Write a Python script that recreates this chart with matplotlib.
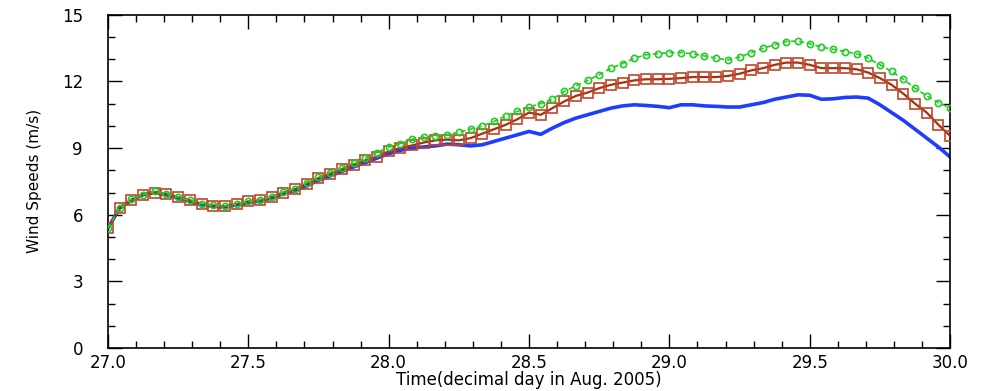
import numpy as np
import matplotlib.pyplot as plt
from matplotlib.ticker import MultipleLocator

# hourly samples, 27.0 .. 30.0 (decimal day in Aug. 2005)
hours = np.arange(73)
day = 27 + hours / 24.0

blue = [5.4, 6.3, 6.65, 6.9, 7.0, 6.9, 6.75, 6.6, 6.45, 6.38, 6.35, 6.45,
        6.55, 6.62, 6.75, 6.95, 7.1, 7.3, 7.55, 7.75, 7.95, 8.15, 8.35, 8.55,
        8.75, 8.9, 9.0, 9.05, 9.1, 9.18, 9.15, 9.1, 9.15, 9.3, 9.45, 9.6,
        9.75, 9.62, 9.9, 10.15, 10.35, 10.5, 10.65, 10.8, 10.9, 10.95, 10.92, 10.88,
        10.82, 10.95, 10.95, 10.9, 10.88, 10.85, 10.85, 10.95, 11.05, 11.2, 11.3, 11.4,
        11.38, 11.2, 11.22, 11.28, 11.3, 11.25, 10.95, 10.6, 10.25, 9.85, 9.45, 9.05,
        8.6]

red = [5.4, 6.3, 6.65, 6.9, 7.0, 6.95, 6.8, 6.65, 6.5, 6.4, 6.38, 6.48,
       6.6, 6.65, 6.8, 7.0, 7.15, 7.4, 7.65, 7.85, 8.05, 8.25, 8.45, 8.62,
       8.85, 9.0, 9.12, 9.25, 9.35, 9.38, 9.35, 9.45, 9.65, 9.85, 10.05, 10.3,
       10.6, 10.5, 10.8, 11.1, 11.35, 11.5, 11.7, 11.85, 11.95, 12.05, 12.1, 12.1,
       12.12, 12.15, 12.2, 12.2, 12.2, 12.25, 12.35, 12.5, 12.6, 12.75, 12.85, 12.85,
       12.75, 12.6, 12.6, 12.6, 12.55, 12.4, 12.15, 11.85, 11.45, 11.0, 10.6, 10.05,
       9.55]

green = [5.4, 6.3, 6.7, 6.9, 7.05, 6.95, 6.8, 6.65, 6.5, 6.42, 6.4, 6.5,
         6.6, 6.68, 6.82, 7.02, 7.18, 7.45, 7.7, 7.9, 8.1, 8.32, 8.55, 8.8,
         9.05, 9.2, 9.4, 9.5, 9.55, 9.6, 9.72, 9.85, 10.0, 10.2, 10.45, 10.65,
         10.85, 11.0, 11.2, 11.55, 11.8, 12.05, 12.3, 12.6, 12.8, 13.05, 13.2, 13.25,
         13.3, 13.3, 13.25, 13.15, 13.05, 12.97, 13.1, 13.3, 13.5, 13.65, 13.8, 13.82,
         13.7, 13.55, 13.45, 13.35, 13.25, 13.05, 12.75, 12.45, 12.1, 11.7, 11.35, 11.05,
         10.8]

fig = plt.figure(figsize=(9.85, 3.91), dpi=100)
ax = fig.add_axes([0.1096, 0.110, 0.855, 0.852])

ax.plot(day, blue, color='#1f3dff', lw=2.6, zorder=2)
ax.plot(day, red, color='#a8300a', lw=1.6, marker='s', ms=7.5, mfc='none',
        mec='#c0442a', mew=1.2, zorder=3)
ax.plot(day, green, color='#22cc22', lw=1.2, ls=(0, (3, 2)), marker='o', ms=4.5,
        mfc='none', mec='#22cc22', mew=1.2, zorder=4)

ax.set_xlim(27.0, 30.0)
ax.set_ylim(0, 15)
ax.xaxis.set_major_locator(MultipleLocator(0.5))
ax.xaxis.set_minor_locator(MultipleLocator(0.1))
ax.yaxis.set_major_locator(MultipleLocator(3))
ax.yaxis.set_minor_locator(MultipleLocator(1))
ax.xaxis.set_major_formatter(plt.FormatStrFormatter('%.1f'))
ax.tick_params(which='both', direction='in', top=True, right=True, width=1)
ax.tick_params(which='major', length=10, labelsize=12)
ax.tick_params(axis='x', which='major', pad=4)
ax.tick_params(axis='y', which='major', pad=18)
ax.tick_params(which='minor', length=5)
for s in ax.spines.values():
    s.set_linewidth(1.2)

ax.set_xlabel('Time(decimal day in Aug. 2005)', fontsize=12)
ax.xaxis.set_label_coords(0.5, -0.068)
ax.set_ylabel('Wind Speeds (m/s)', fontsize=11, labelpad=14)

fig.savefig('out.png', dpi=100)
